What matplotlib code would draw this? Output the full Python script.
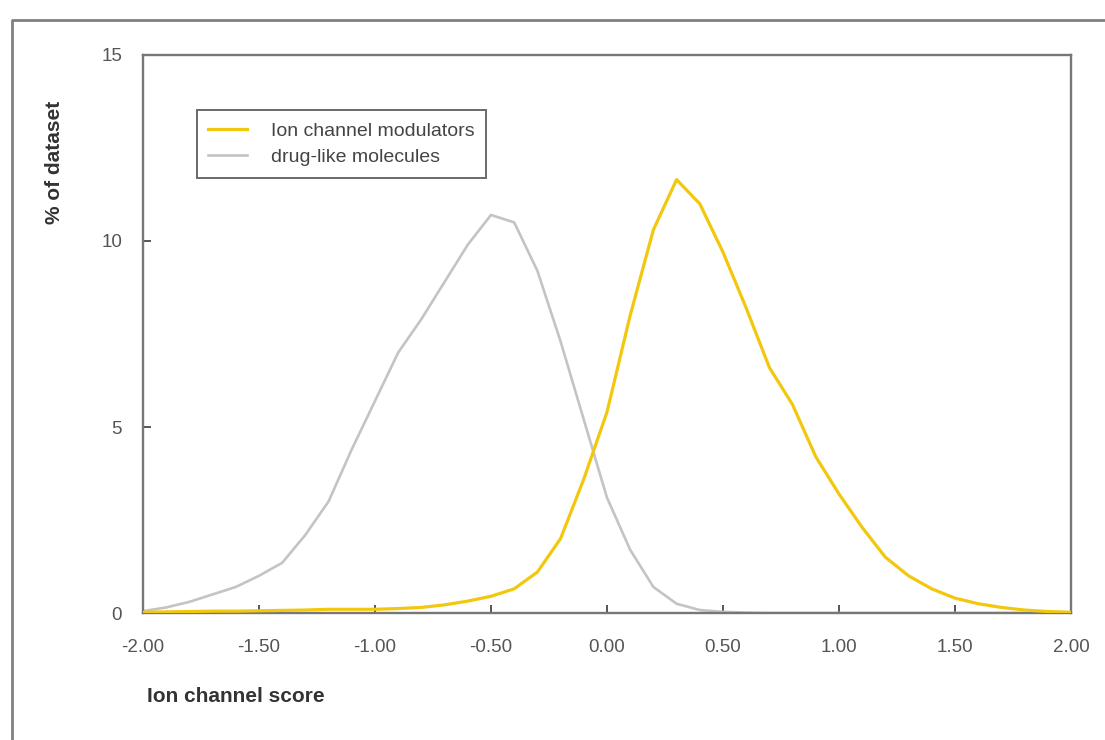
import numpy as np
import matplotlib
matplotlib.use('Agg')
import matplotlib.pyplot as plt
from matplotlib.lines import Line2D

# =====================================
# DATA
# =====================================

score = np.round(np.arange(-2.0, 2.01, 0.1), 1)

ion_channel = [0.02, 0.03, 0.04, 0.05, 0.05, 0.06, 0.07, 0.08, 0.10, 0.10,
               0.10, 0.12, 0.15, 0.22, 0.32, 0.45, 0.65, 1.10, 2.00, 3.60,
               5.40, 8.00, 10.30, 11.65, 11.00, 9.70, 8.20, 6.60, 5.60, 4.20,
               3.20, 2.30, 1.50, 1.00, 0.65, 0.40, 0.25, 0.15, 0.08, 0.04,
               0.02]

drug_like = [0.05, 0.15, 0.30, 0.50, 0.70, 1.00, 1.35, 2.10, 3.00, 4.40,
             5.70, 7.00, 7.90, 8.90, 9.90, 10.70, 10.50, 9.20, 7.30, 5.20,
             3.10, 1.70, 0.70, 0.25, 0.08, 0.03, 0.01, 0.0, 0.0, 0.0,
             0.0, 0.0, 0.0, 0.0, 0.0, 0.0, 0.0, 0.0, 0.0, 0.0,
             0.0]

x_ticks = [-2.0, -1.5, -1.0, -0.5, 0.0, 0.5, 1.0, 1.5, 2.0]
y_ticks = [0, 5, 10, 15]

series_labels = ['Ion channel modulators', 'drug-like molecules']

# =====================================
# FIGURE
# =====================================

plt.rcParams['font.family'] = ['Liberation Sans', 'DejaVu Sans']

fig = plt.figure(figsize=(11.05, 7.40), dpi=100)
ax = fig.add_axes([0.1294, 0.1716, 0.8398, 0.7541])

ax.plot(score, ion_channel, color='#F2C80F', lw=2.3, label=series_labels[0],
        solid_joinstyle='round', zorder=3)
ax.plot(score, drug_like, color='#C4C4C4', lw=1.9, label=series_labels[1],
        solid_joinstyle='round', zorder=2)

ax.set_xlim(-2.0, 2.0)
ax.set_ylim(0, 15)
ax.set_xticks(x_ticks)
ax.set_xticklabels([f'{v:.2f}' for v in x_ticks])
ax.set_yticks(y_ticks)

for s in ax.spines.values():
    s.set_color('#777777')
    s.set_linewidth(1.7)

ax.tick_params(axis='both', direction='in', length=6, width=1.4,
               color='#555555', labelcolor='#555555', labelsize=13.5)
ax.tick_params(axis='x', pad=19)
ax.tick_params(axis='y', pad=15)

leg = ax.legend(loc='upper left', bbox_to_anchor=(0.058, 0.901),
                frameon=True, fancybox=False, fontsize=14,
                handlelength=2.0, handletextpad=1.2, borderpad=0.6,
                labelspacing=0.45, borderaxespad=0)
leg.get_frame().set_edgecolor('#444444')
leg.get_frame().set_linewidth(1.4)
for t in leg.get_texts():
    t.set_color('#444444')

fig.text(147 / 1105, 1 - 697 / 740, 'Ion channel score', ha='left', va='center',
         fontsize=15, fontweight='bold', color='#333333')
fig.text(55 / 1105, 1 - 162 / 740, '% of dataset', ha='center', va='center',
         rotation=90, fontsize=15, fontweight='bold', color='#333333')

# outer frame of the original figure panel
fx = 12 / 1105
fy = 1 - 20 / 740
fig.add_artist(Line2D([fx, fx, 1.0], [0.0, fy, fy], transform=fig.transFigure,
                      color='#808080', lw=2.0))

fig.savefig('out.png', dpi=100)
